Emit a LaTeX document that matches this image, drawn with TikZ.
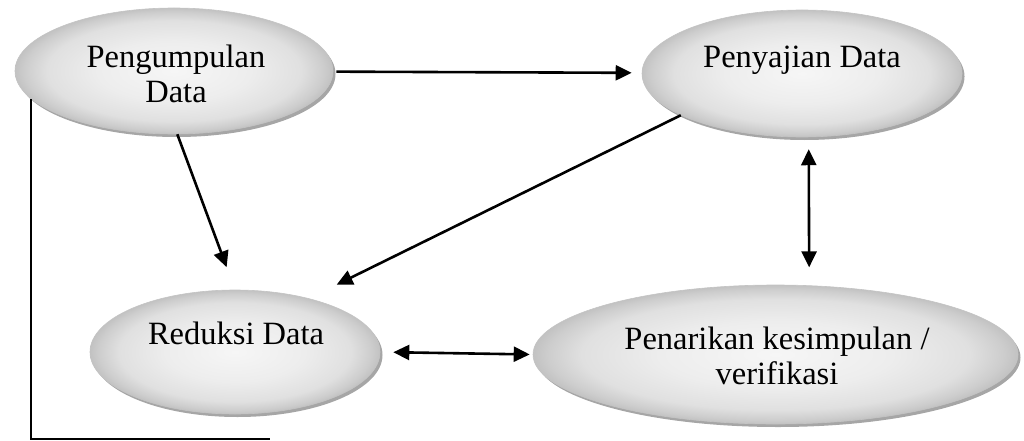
\documentclass[tikz,border=0pt]{standalone}
\usepackage{fontspec}
\setmainfont{Liberation Serif}
\usetikzlibrary{shapes.geometric,arrows.meta,shadows}
\definecolor{shA}{HTML}{F6F6F6}
\definecolor{shB}{HTML}{EDEDED}
\definecolor{shC}{HTML}{E0E0E0}
\definecolor{shD}{HTML}{CDCDCD}
\definecolor{shE}{HTML}{C2C2C2}
\definecolor{rimgray}{HTML}{A6A6A6}
\definecolor{edgegray}{HTML}{C4C4C4}
\pgfdeclareradialshading{ellshade}{\pgfpoint{0bp}{0bp}}{%
  color(0bp)=(shA); color(12bp)=(shB); color(20bp)=(shC);
  color(23.5bp)=(shD); color(25bp)=(shE); color(50bp)=(shE)}
\tikzset{
  oval/.style={ellipse, inner sep=0pt, shading=ellshade, draw=edgegray, line width=0.6pt,
    general shadow={fill=rimgray, shadow xshift=2.5pt, shadow yshift=-3pt}},
  lbl/.style={font=\fontsize{32.5}{35.5}\selectfont, align=center, inner sep=0pt},
  arr/.style={line width=2.6pt, -{Triangle[length=16pt,width=15pt]}},
  dblarr/.style={line width=2.6pt, {Triangle[length=16pt,width=15pt]}-{Triangle[length=16pt,width=15pt]}},
  plain/.style={line width=2.4pt}
}
\begin{document}
\begin{tikzpicture}[x=1pt,y=-1pt]
\useasboundingbox (0,0) rectangle (1024,441);
% ellipses
\node[oval, minimum width=318pt, minimum height=126pt] (e1) at (174,71) {};
\node[oval, minimum width=320pt, minimum height=127pt] (e2) at (802,73.5) {};
\node[oval, minimum width=290pt, minimum height=124pt] (e3) at (235,352) {};
\node[oval, minimum width=485pt, minimum height=139pt] (e4) at (775.5,354.5) {};
% labels
\node[lbl] (t1) at (176,74) {Pengumpulan\\Data};
\node[lbl, anchor=base] (t2) at (802,68) {Penyajian Data};
\node[lbl, anchor=base] (t3) at (236,344) {Reduksi Data};
\node[lbl] (t4) at (777,356) {Penarikan kesimpulan /\\verifikasi};
% connectors
\draw[arr, shorten <=3pt, shorten >=10pt] (e1) -- (e2);
\draw[arr, shorten >=24pt] (e1.-87) -- (e3.north);
\draw[arr, shorten >=31pt] (e2.199) -- (e3.36.5);
\draw[dblarr, shorten <=12pt, shorten >=18pt] (e2.-84) -- (e4.64);
\draw[dblarr, shorten <=13pt, shorten >=3pt] (e3.east) -- (e4.west);
\coordinate (lineend) at (270,439);
\draw[plain] (e1.191) |- (lineend);
\end{tikzpicture}
\end{document}
